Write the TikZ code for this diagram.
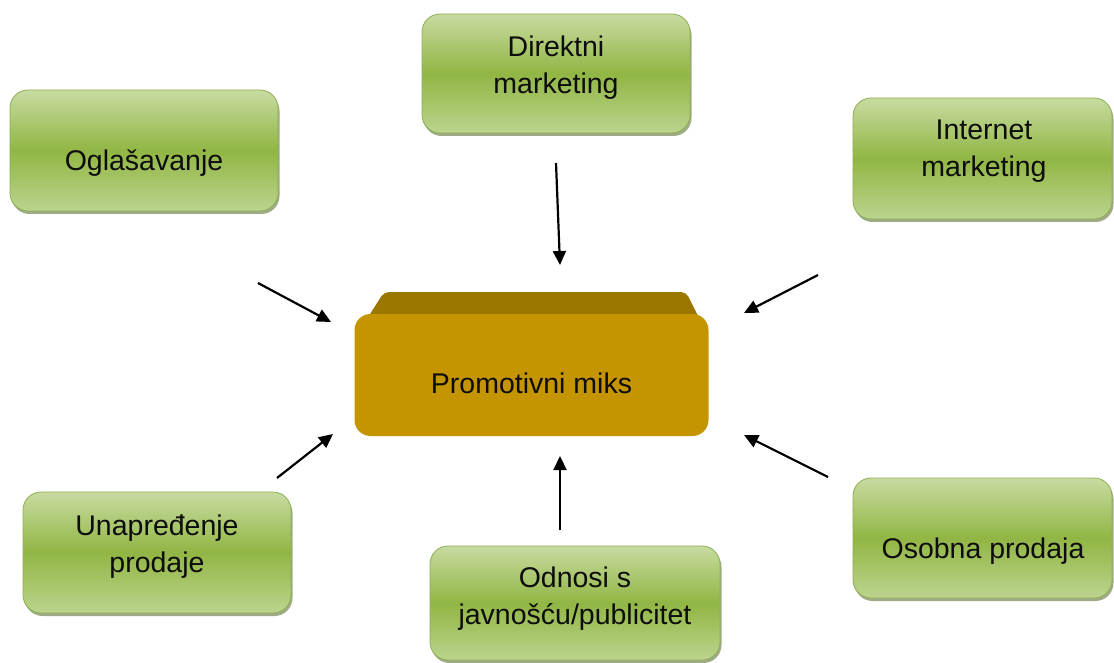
\documentclass[tikz,border=0pt]{standalone}
\usepackage{fontspec}
\setmainfont{Liberation Sans}
\usetikzlibrary{shadows,arrows.meta}
\definecolor{gtop}{HTML}{C8DBA1}
\definecolor{gmid}{HTML}{91B644}
\definecolor{gbot}{HTML}{BCD48E}
\definecolor{gedge}{HTML}{8EAF52}
\definecolor{gshadow}{HTML}{4F6622}
\definecolor{ofront}{HTML}{C49500}
\definecolor{otop}{HTML}{9B7700}
\tikzset{
  gbox/.style={draw=gedge, line width=0.8pt, rounded corners=18pt,
    top color=gtop, bottom color=gbot, middle color=gmid,
    drop shadow={shadow xshift=1.5pt, shadow yshift=-3pt, fill=gshadow, opacity=0.55}},
  gtext/.style={align=center, font=\fontsize{28.5}{37}\selectfont, text=black!95, inner sep=0pt},
  arr/.style={-{Triangle[length=14pt,width=13pt]}, line width=2.2pt, black},
}
\begin{document}
\begin{tikzpicture}[x=1pt,y=-1pt]
\useasboundingbox (0,0) rectangle (1114,663);
% central 3D box
\fill[otop, rounded corners=5pt] (355,338) -- (384,292) -- (686,292) -- (709,338) -- cycle;
\node[fill=ofront, rounded corners=16pt, minimum width=354pt, minimum height=122pt, inner sep=0pt] (cen) at (531.5,375) {};
\node[gtext] (cent) at (531.5,383) {Promotivni miks};
% outer boxes
\node[gbox, minimum width=268pt, minimum height=121pt] (ogl) at (144,150.5) {};
\node[gbox, minimum width=268pt, minimum height=119pt] (dir) at (556,73.5) {};
\node[gbox, minimum width=259pt, minimum height=121pt] (int) at (982.5,158.5) {};
\node[gbox, minimum width=268pt, minimum height=121pt] (una) at (157,552.5) {};
\node[gbox, minimum width=290pt, minimum height=114pt] (odn) at (575,603) {};
\node[gbox, minimum width=259pt, minimum height=120pt] (oso) at (982.5,538) {};
% texts
\node[gtext] (oglt) at (144,163) {Ogla\v{s}avanje};
\node[gtext] (dirt) at (556,68) {Direktni\\marketing};
\node[gtext] (intt) at (984,151.5) {Internet\\marketing};
\node[gtext] (unat) at (157,546.5) {Unapre\dj enje\\prodaje};
\node[gtext] (odnt) at (575,599) {Odnosi s\\javno\v{s}\'{c}u/publicitet};
\node[gtext] (osot) at (983,551) {Osobna prodaja};
% arrow endpoints
\coordinate (a1s) at (258,283); \coordinate (a1e) at (331,322);
\coordinate (a2s) at (556,163); \coordinate (a2e) at (560,265);
\coordinate (a3s) at (818,275); \coordinate (a3e) at (744,313);
\coordinate (a4s) at (277,478); \coordinate (a4e) at (333,434);
\coordinate (a5s) at (560,530); \coordinate (a5e) at (560,456);
\coordinate (a6s) at (828,477); \coordinate (a6e) at (744,435);
\draw[arr] (a1s) -- (a1e);
\draw[arr] (a2s) -- (a2e);
\draw[arr] (a3s) -- (a3e);
\draw[arr] (a4s) -- (a4e);
\draw[arr] (a5s) -- (a5e);
\draw[arr] (a6s) -- (a6e);
\end{tikzpicture}
\end{document}
